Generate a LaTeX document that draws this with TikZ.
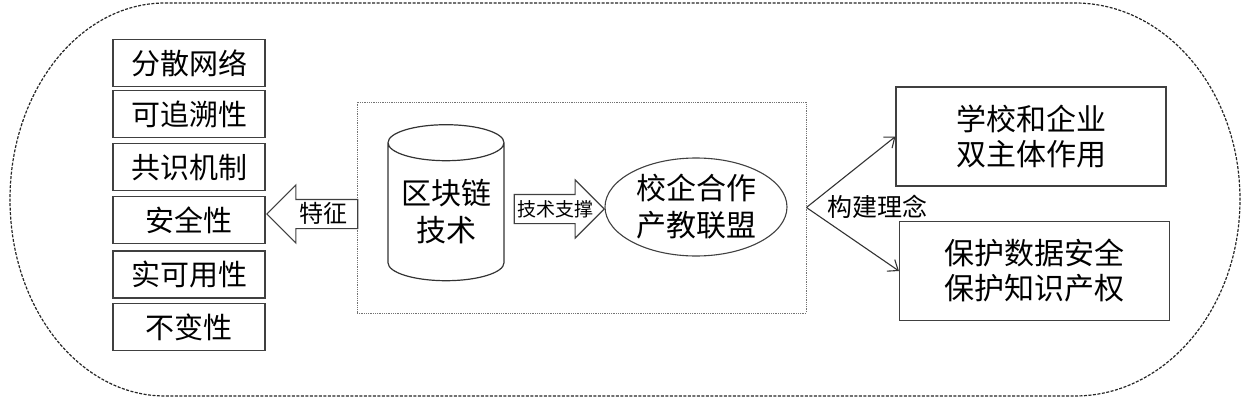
\documentclass[tikz,border=0pt]{standalone}
\usepackage{fontspec}
\newfontfamily\cjk{Noto Sans CJK SC}
\usetikzlibrary{shapes.geometric,shapes.arrows,arrows.meta}

\tikzset{
  trait_box/.style={rectangle,minimum width=152pt,minimum height=47pt,inner sep=0pt,draw=black!75,line width=1.1pt,font=\cjk\fontsize{29pt}{35pt}\selectfont},
  aim_box/.style={rectangle,minimum width=270pt,minimum height=99pt,inner sep=0pt,align=center,draw=black!75,line width=1.1pt,font=\cjk\fontsize{30pt}{35pt}\selectfont},
  block_arrow/.style={single arrow,draw=black!75,line width=1.1pt,inner xsep=0pt,inner ysep=14pt,single arrow head extend=14.5pt},
  big_txt/.style={align=center,font=\cjk\fontsize{30pt}{37pt}\selectfont},
}

\begin{document}
\begin{tikzpicture}[
  x=1pt,y=-1pt,
  every node/.style={color=black},
  outer line/.style={dash pattern=on 3pt off 1.5pt, line width=1.2pt, black!85},
  frame line/.style={densely dotted, line width=0.8pt, draw=black!55},
  connector/.style={line width=1.1pt, black!80, -{Straight Barb[length=9pt,width=14pt]}},
  ]
  \useasboundingbox (0,0) rectangle (1247,401);

  % outer dashed outline
  \draw[outer line] (165,3) -- (1075,3)
       arc[start angle=-90,end angle=90,x radius=165,y radius=196.5] -- (165,396)
       arc[start angle=90,end angle=270,x radius=155,y radius=196.5] -- cycle;

  % traits on the left
  \foreach \name/\y/\txt in {f1/63/分散网络, f2/114/可追溯性, f3/167/共识机制,
                             f4/220/安全性, f5/274.5/实可用性, f6/327/不变性}{
    \node[trait_box] (\name) at (189,\y) {\txt};
  }

  % middle frame
  \node[frame line, minimum width=449pt, minimum height=211pt, inner sep=0pt] (frame) at (581.5,207.5) {};

  \node[cylinder, shape border rotate=90, aspect=0.4, draw=black!80, line width=1.2pt,
        minimum width=116pt, minimum height=156pt, inner sep=0pt, big_txt] (chain) at (446,212) {区块链\\技术};

  \node[ellipse, draw=black!75, line width=1.1pt, minimum width=182pt, minimum height=98pt,
        inner sep=0pt, big_txt] (union) at (696,207) {校企合作\\产教联盟};

  % block arrows
  \node[block_arrow, shape border rotate=180, minimum height=91pt, anchor=tip] (trait) at (266,214) {};
  \node[font=\cjk\fontsize{24pt}{28pt}\selectfont] (trait_txt) at (323,213) {特征};

  \node[block_arrow, minimum height=90pt, anchor=tip] (supp) at (605,209) {};
  \node[font=\cjk\fontsize{19pt}{22pt}\selectfont] (supp_txt) at (555,209) {技术支撑};

  % right side
  \node[aim_box] (aim1) at (1031,136.5) {学校和企业\\双主体作用};
  \node[aim_box] (aim2) at (1034.5,271) {保护数据安全\\保护知识产权};

  \node[font=\cjk\fontsize{25pt}{28pt}\selectfont] (idea) at (877,207) {构建理念};

  \draw[connector] (frame.east) -- (aim1.west);
  \draw[connector] (frame.east) -- (aim2.west);

\end{tikzpicture}
\end{document}
